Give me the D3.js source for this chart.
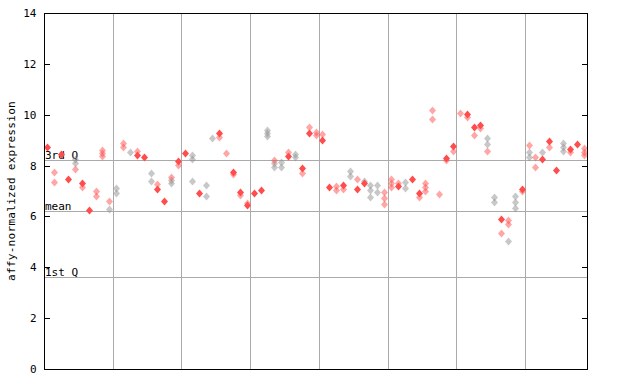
<!DOCTYPE html>
<html><head><meta charset="utf-8">
<script src="https://cdn.jsdelivr.net/npm/d3@7"></script>
<style>body{margin:0;background:#fff}svg{display:block}text{font-family:"DejaVu Sans Mono",monospace;}</style>
</head><body><svg id="c" width="640" height="384"></svg>
<script>
// kinds: S = solid red, R = hatched red, G = hatched gray
const slots = [0,1,1,2,3,4,4,4,5,5,6,7,7,8,8,8,9,9,
 10,10,11,11,12,13,13,14,15,15,16,16,17,18,18,18,19,19,
 20,21,21,21,22,23,23,24,25,25,26,27,27,28,28,29,29,
 30,31,32,32,32,33,33,33,34,34,35,35,36,36,37,37,38,38,39,39,
 40,40,41,42,42,43,43,44,44,45,45,46,46,47,47,47,48,48,49,49,49,
 50,50,50,51,51,52,52,53,54,54,55,55,55,56,56,57,58,58,59,59,
 60,61,61,62,62,63,63,64,64,64,65,65,66,66,67,67,67,68,68,68,69,69,
 70,70,70,71,71,72,72,73,73,74,75,75,75,76,76,77,78,78,78];
const values = [8.72,7.73,7.34,8.45,7.48,8.25,8.12,7.85,7.30,7.14,6.25,7.0,6.81,8.61,8.5,8.37,6.6,6.29,
 7.13,6.91,8.87,8.74,8.52,8.57,8.43,8.35,7.72,7.39,7.27,7.09,6.59,7.55,7.43,7.3,8.19,8.02,
 8.51,8.42,8.25,7.38,6.93,7.22,6.8,9.07,9.27,9.13,8.48,7.76,7.65,6.97,6.85,6.54,6.44,
 6.93,7.04,9.4,9.27,9.16,8.22,8.09,7.96,8.15,7.96,8.52,8.39,8.44,8.35,7.92,7.69,9.53,9.29,9.33,9.2,
 9.25,9.0,7.14,7.2,7.04,7.25,7.07,7.79,7.6,7.46,7.07,7.39,7.3,7.24,7.04,6.75,7.25,6.96,6.95,6.71,6.48,
 7.47,7.3,7.14,7.33,7.2,7.35,7.1,7.46,6.93,6.78,7.3,7.14,7.0,10.18,9.82,6.87,8.28,8.2,8.78,8.58,
 10.05,10.03,9.92,9.53,9.2,9.61,9.46,9.07,8.83,8.57,6.75,6.55,5.91,5.34,5.86,5.69,5.03,6.79,6.55,6.32,7.07,7.0,
 8.79,8.52,8.35,8.35,7.93,8.55,8.26,8.98,8.72,7.84,8.9,8.74,8.57,8.66,8.55,8.83,8.68,8.55,8.41];
const kinds = ["S","R","R","S","S","G","G","R","S","R","S","R","R","R","R","R","R","G",
 "G","G","R","R","G","R","S","S","G","G","R","S","S","R","G","G","S","R",
 "S","G","G","G","S","G","G","G","S","R","R","S","R","S","R","R","S",
 "S","S","G","G","G","R","G","G","G","G","R","S","G","G","S","R","R","S","R","R",
 "R","S","S","R","R","S","R","G","G","R","S","G","S","G","G","G","G","G","R","R","R",
 "R","R","R","R","S","G","G","S","S","R","R","R","R","R","R","R","S","R","S","R",
 "R","S","R","S","R","S","R","G","G","R","G","G","S","R","R","R","G","G","G","G","S","R",
 "R","G","G","R","R","G","S","S","R","S","G","G","G","S","R","S","R","R","R"];
const yTicks = [0,2,4,6,8,10,12,14];
const nSlots = 79;
const groupBounds = [10,20,30,40,50,60,70];
const refLines = [{label:"3rd Q", v:8.22},{label:"mean", v:6.2},{label:"1st Q", v:3.6}];
const yLabel = "affy-normalized expression";

const svg = d3.select("#c");
const L=44, R=587, T=13, B=369;
const x = d3.scaleLinear().domain([0,nSlots]).range([L,R]);
const y = d3.scaleLinear().domain([0,14]).range([B,T]);

const defs = svg.append("defs");
function pat(id,col){
  const p = defs.append("pattern").attr("id",id).attr("patternUnits","userSpaceOnUse")
    .attr("width",2).attr("height",2);
  p.append("rect").attr("x",0).attr("y",0).attr("width",1).attr("height",1).attr("fill",col);
  p.append("rect").attr("x",1).attr("y",1).attr("width",1).attr("height",1).attr("fill",col);
}
pat("hr","#ff4d4d");
pat("hg","#909090");

// gridlines
svg.append("g").selectAll("line").data(groupBounds).join("line")
  .attr("x1",d=>Math.round(x(d))+0.5).attr("x2",d=>Math.round(x(d))+0.5)
  .attr("y1",T).attr("y2",B).attr("stroke","#aaaaaa").attr("stroke-width",1);
svg.append("g").selectAll("line").data(refLines).join("line")
  .attr("x1",L).attr("x2",R).attr("y1",d=>Math.round(y(d.v))+0.5).attr("y2",d=>Math.round(y(d.v))+0.5)
  .attr("stroke","#aaaaaa").attr("stroke-width",1);
svg.append("g").selectAll("text").data(refLines).join("text")
  .attr("x",L+1).attr("y",d=>Math.round(y(d.v))-1).attr("font-size",11).attr("fill","#000")
  .text(d=>d.label);

// points
const pts = slots.map((s,i)=>({s, v:values[i], k:kinds[i]}));
const order = {G:0,R:1,S:2};
pts.sort((a,b)=>order[a.k]-order[b.k]);
const diamond = "M0,-4L3.5,0L0,4L-3.5,0Z";
svg.append("g").selectAll("path").data(pts).join("path")
  .attr("transform",d=>`translate(${Math.round(x(d.s+0.5))+0.5},${Math.round(y(d.v))+0.5})`)
  .attr("d",diamond)
  .attr("fill",d=>d.k==="S"?"#ff4d4d":(d.k==="R"?"url(#hr)":"url(#hg)"));

// frame
svg.append("rect").attr("x",L+0.5).attr("y",T+0.5).attr("width",R-L).attr("height",B-T)
  .attr("fill","none").attr("stroke","#000").attr("stroke-width",1);

// y axis
const ax = d3.axisLeft(y).tickValues(yTicks).tickSize(0).tickPadding(8).tickFormat(d3.format("d"));
const g = svg.append("g").attr("transform",`translate(${L+0.5},0)`).call(ax);
g.select(".domain").remove();
g.selectAll("text").attr("font-size",11).attr("fill","#000").attr("font-family","DejaVu Sans Mono");
svg.append("g").selectAll("line").data(yTicks).join("line")
  .attr("x1",L).attr("x2",L+6).attr("y1",d=>Math.round(y(d))+0.5).attr("y2",d=>Math.round(y(d))+0.5)
  .attr("stroke","#000");
svg.append("g").selectAll("line").data(yTicks).join("line")
  .attr("x1",R-5).attr("x2",R).attr("y1",d=>Math.round(y(d))+0.5).attr("y2",d=>Math.round(y(d))+0.5)
  .attr("stroke","#000");

svg.append("text").attr("transform","translate(15,191) rotate(-90)")
  .attr("text-anchor","middle").attr("font-size",11).attr("letter-spacing",0.3).text(yLabel);
</script></body></html>
